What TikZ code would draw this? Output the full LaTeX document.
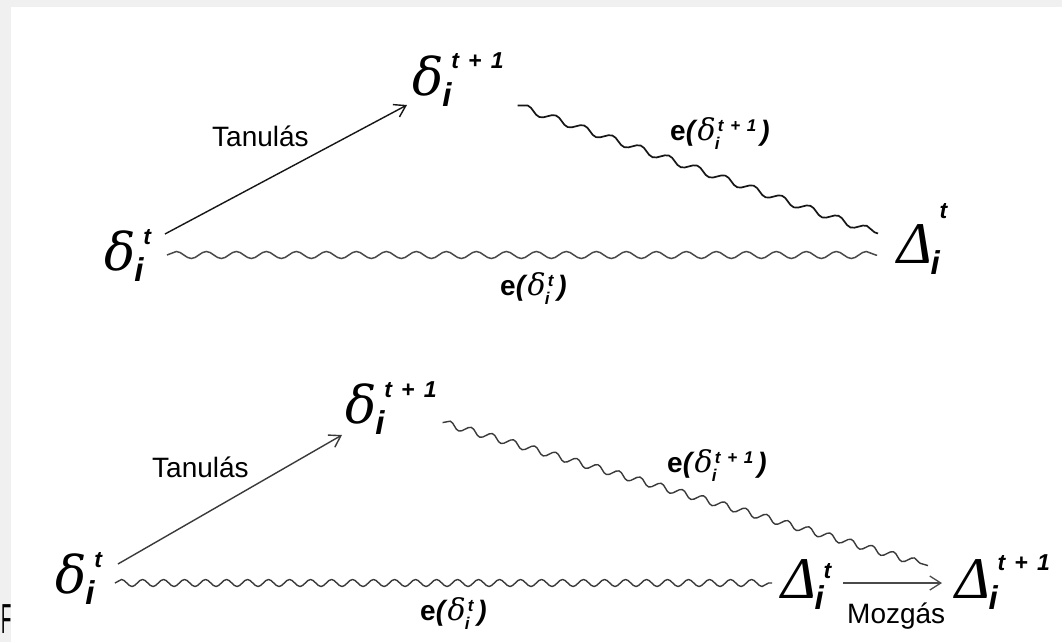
\documentclass[tikz,border=0pt]{standalone}
\usepackage{fontspec}
\setmainfont{Liberation Sans}
\newfontfamily\grkfont{Liberation Serif}
\newfontfamily\dltfont{DejaVu Serif}
\usetikzlibrary{arrows.meta,calc,decorations.pathmorphing}
\definecolor{bggray}{HTML}{F0F0F0}
\definecolor{inkline}{HTML}{161616}
\definecolor{softline}{HTML}{4A4A4A}
\definecolor{midline}{HTML}{3A3A3A}

\newcommand{\smalld}{{\dltfont\itshape δ}}
\newcommand{\bigD}{{\fontsize{59}{59}\selectfont\grkfont\itshape Δ}}
\newcommand{\bigd}{{\fontsize{52}{52}\selectfont\smalld}}
\newcommand{\tpo}{t\hspace{0.4em}+\hspace{0.4em}1}
\newcommand{\idxsup}[1]{{\fontsize{23}{23}\selectfont\bfseries\itshape #1}}
\newcommand{\idxsub}[1]{{\fontsize{33}{33}\selectfont\bfseries\itshape #1}}
\newcommand{\elem}[4][26pt]{#2\rlap{\kern-1pt\raisebox{-11pt}{\idxsub{#4}}}\kern8pt\raisebox{#1}{\idxsup{#3}}}
\newcommand{\labsup}[1]{{\fontsize{17}{17}\selectfont\bfseries\itshape #1}}
\newcommand{\labsub}[1]{{\fontsize{17}{17}\selectfont\bfseries\itshape #1}}
\newcommand{\errlab}[1]{\textbf{e}\textbf{\itshape(}{\fontsize{30}{30}\selectfont\smalld}\rlap{\kern-1pt\raisebox{-9pt}{\labsub{i}}}\kern2pt\raisebox{9pt}{\labsup{#1}}\kern4pt\textbf{\itshape)}}

\begin{document}
\begin{tikzpicture}[x=1pt,y=-1pt,
  sym/.style={inner sep=0pt,outer sep=0pt,anchor=base west},
  lab/.style={inner sep=0pt,anchor=base west,font=\fontsize{28}{30}\selectfont},
  learn/.style={draw=inkline,line width=1.4pt,-{Straight Barb[length=11pt,width=14pt]}},
  wave/.style={decorate,decoration={snake,amplitude=3.5pt,segment length=#1}},
  wave/.default=30pt]
  \useasboundingbox (0,0) rectangle (1062,642);
  \fill[bggray] (0,0) rectangle (1062,642);
  \fill[white] (11,7) rectangle (1062,642);

  % upper triangle
  \node[sym] (dA1) at (104,270) {\elem{\bigd}{t}{i}};
  \node[sym] (dB1) at (412,95) {\elem{\bigd}{\tpo}{i}};
  \node[sym] (DA1) at (897,263) {\elem[45pt]{\bigD}{t}{i}};
  \node[lab] (learn1) at (212,146) {Tanulás};
  \node[lab] (errB1) at (670,140) {\errlab{\tpo}};
  \node[lab] (errA1) at (500,295) {\errlab{t}};

  \draw[learn] ($(dA1.east)+(14,-21)$) -- ($(dB1.south west)+(-5,-1)$);
  \draw[wave,draw=inkline,line width=1.7pt] ($(dB1.east)+(14,26)$) -- ($(DA1.west)+(-19,-5)$);
  \draw[wave,draw=softline,line width=1.5pt] ($(dA1.east)+(16,0)$) -- ($(dA1.east -| DA1.west)+(-20,0)$);

  % lower triangle
  \node[sym] (dA2) at (55,593) {\elem{\bigd}{t}{i}};
  \node[sym] (dB2) at (345,423) {\elem{\bigd}{\tpo}{i}};
  \node[sym] (DA2) at (781,598) {\elem[20pt]{\bigD}{t}{i}};
  \node[sym] (DB2) at (955,598) {\elem[28pt]{\bigD}{\tpo}{i}};
  \node[lab] (learn2) at (152,477) {Tanulás};
  \node[lab] (errB2) at (667,472) {\errlab{\tpo}};
  \node[lab] (errA2) at (420,620) {\errlab{t}};
  \node[lab] (move) at (847,623) {Mozgás};

  \draw[learn,draw=midline] ($(dA2.east)+(16,-14)$) -- ($(dB2.south west)+(-3,1)$);
  \draw[wave=22pt,draw=midline,line width=1.4pt] ($(dB2.east)+(6,15)$) -- ($(DB2.west)+(-27,-16)$);
  \draw[wave=21pt,draw=midline,line width=1.4pt] ($(dA2.east)+(13,5)$) -- ($(dA2.east -| DA2.west)+(-9,5)$);
  \draw[learn,draw=softline,line width=1.3pt] ($(DA2.east)+(12,-1)$) -- ($(DA2.east -| DB2.west)+(-13,-1)$);

  \node[lab,font=\fontsize{42}{42}\selectfont] (fig) at (1,633) {\scalebox{0.4}[1]{F}};
\end{tikzpicture}
\end{document}
